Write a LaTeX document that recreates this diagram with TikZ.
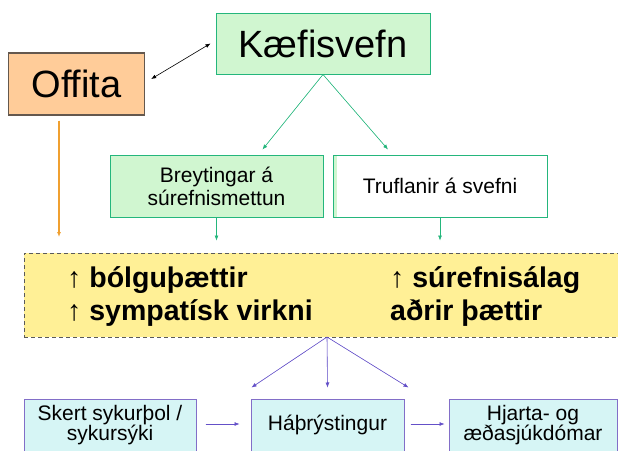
\documentclass[tikz,border=0pt]{standalone}
\usepackage{fontspec}
\setmainfont{Liberation Sans}
\usetikzlibrary{arrows.meta}
\definecolor{kfill}{RGB}{208,246,208}
\definecolor{kedge}{RGB}{36,182,124}
\definecolor{ofill}{RGB}{255,204,153}
\definecolor{oedge}{RGB}{100,88,78}
\definecolor{oline}{RGB}{240,160,48}
\definecolor{yfill}{RGB}{255,240,150}
\definecolor{yedge}{RGB}{90,90,90}
\definecolor{bfill}{RGB}{214,245,245}
\definecolor{bedge}{RGB}{130,110,200}
\definecolor{parrow}{RGB}{100,80,200}
\tikzset{
  boxbase/.style={rectangle, inner sep=0pt, align=center, line width=1pt},
  greenbox/.style={boxbase, fill=kfill, draw=kedge},
  bottombox/.style={boxbase, fill=bfill, draw=bedge, minimum height=52pt,
    font=\fontsize{21}{20}\selectfont},
  midtext/.style={font=\fontsize{21}{23}\selectfont},
  yeltext/.style={anchor=base west, inner sep=0pt, font=\fontsize{28.5}{30}\selectfont\bfseries},
  tip/.style={-{Latex[length=5pt,width=4pt]}},
  garrow/.style={tip, draw=kedge, fill=kedge, line width=0.6pt},
  parr/.style={tip, draw=parrow, fill=parrow, line width=0.6pt},
}
\begin{document}
\begin{tikzpicture}[x=1pt,y=-1pt]
\useasboundingbox (0,0) rectangle (618,450);
% top boxes
\node[greenbox, minimum width=214pt, minimum height=61pt,
  font=\fontsize{38}{40}\selectfont] (kae) at (323,43.5) {Kæfisvefn};
\node[boxbase, fill=ofill, draw=oedge, line width=1.4pt, minimum width=136pt, minimum height=62pt,
  font=\fontsize{38}{40}\selectfont] (off) at (76.5,84) {Offita};
% middle boxes
\node[greenbox, midtext, minimum width=213pt, minimum height=62pt] (brey) at (216.5,186)
  {Breytingar á\\súrefnismettun};
\node[boxbase, midtext, fill=white, draw=kedge, minimum width=214pt, minimum height=62pt,
  path picture={\fill[kfill] (path picture bounding box.north west) rectangle
    ([xshift=4pt]path picture bounding box.south west);}] (truf) at (440,186)
  {Truflanir á svefni};
% yellow box
\node[boxbase, fill=yfill, draw=yedge, dash pattern=on 4pt off 3pt, line width=1pt,
  minimum width=610pt, minimum height=84pt] (yel) at (329,295) {};
\node[yeltext] (t1) at (67,287) {↑ bólguþættir};
\node[yeltext] (t2) at (67,320) {↑ sympatísk virkni};
\node[yeltext] (t3) at (390,287) {↑ súrefnisálag};
\node[yeltext] (t4) at (390,320) {aðrir þættir};
% bottom boxes
\node[bottombox, minimum width=172pt] (b1) at (110,425) {Skert sykurþol /\\sykursýki};
\node[bottombox, minimum width=153pt] (b2) at (327.5,425) {Háþrýstingur};
\node[bottombox, minimum width=168pt] (b3) at (533,425) {Hjarta- og\\æðasjúkdómar};
% connectors
\draw[{Latex[length=5pt,width=4pt]}-{Latex[length=5pt,width=4pt]}, line width=0.6pt]
  ([shift={(6,-5)}]off.east) -- ([shift={(-5,0)}]kae.west);
\coordinate (oend) at (59,237);
\draw[tip, draw=oline, fill=oline, line width=1.3pt] ([shift={(-17.5,5)}]off.south) -- (oend);
\draw[garrow] (kae.south) -- ([shift={(46,-5)}]brey.north);
\draw[garrow] (kae.south) -- ([shift={(-52,-5)}]truf.north);
\draw[garrow] (brey.south) -- ++(0,23);
\draw[garrow] (truf.south) -- ++(0,23);
\coordinate (hub) at (327,337);
\draw[parr] (hub) -- ([shift={(1,-11)}]b2.north west);
\draw[parr] (hub) -- ([shift={(0,-11)}]b2.north);
\draw[parr] (hub) -- ([shift={(4,-11)}]b2.north east);
\draw[parr] ([shift={(9,-1)}]b1.east) -- ([shift={(-11,-1)}]b2.west);
\draw[parr] ([shift={(6,-1)}]b2.east) -- ([shift={(-4,-1)}]b3.west);
\end{tikzpicture}
\end{document}
